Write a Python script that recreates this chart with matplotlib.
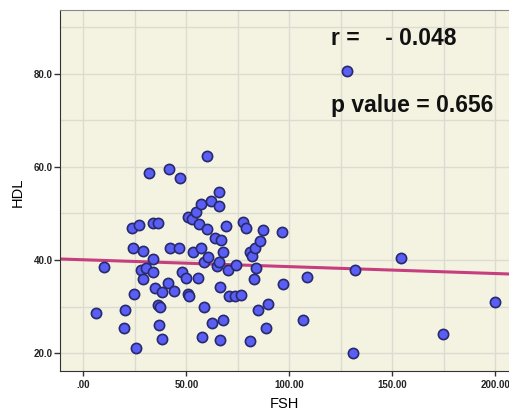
import matplotlib
matplotlib.use("Agg")
import matplotlib.pyplot as plt
from matplotlib.ticker import MultipleLocator
import numpy as np

plt.rcParams['font.family'] = ['Liberation Sans', 'DejaVu Sans']

# FSH vs HDL values
fsh = [6.0, 10.0, 19.8, 20.2, 24.0, 23.8, 27.2, 24.6, 25.5, 28.8,
       28.2, 30.2, 29.1, 32.0, 33.8, 36.2, 33.9, 34.0, 34.8, 38.1,
       36.4, 37.2, 36.9, 38.2, 41.4, 41.2, 43.9, 42.1, 46.6, 46.9,
       48.1, 49.8, 50.6, 51.5, 50.8, 52.9, 54.7, 53.0, 55.8, 56.3,
       57.3, 57.1, 57.5, 58.5, 58.7, 59.9, 60.0, 60.5, 61.8, 62.3,
       63.9, 64.7, 66.0, 66.0, 66.0, 66.7, 67.7, 66.4, 66.4, 68.0,
       69.4, 70.4, 70.9, 73.4, 76.5, 74.0, 77.7, 78.9, 80.7, 80.9,
       81.7, 83.3, 84.0, 82.7, 85.5, 87.1, 84.9, 89.7, 88.6, 96.3,
       97.0, 106.8, 108.6, 127.9, 131.1, 131.9, 154.1, 174.8, 199.9]
hdl = [28.5, 38.6, 25.3, 29.2, 42.5, 46.8, 47.5, 32.6, 21.1, 42.0,
       37.8, 38.2, 36.0, 58.8, 48.0, 48.0, 40.3, 37.5, 34.0, 33.2,
       30.3, 29.8, 26.0, 23.0, 59.6, 35.0, 33.4, 42.5, 42.5, 57.6,
       37.5, 36.1, 32.6, 32.2, 49.3, 48.9, 50.3, 41.7, 36.1, 47.8,
       52.0, 42.5, 23.5, 30.0, 39.6, 46.7, 62.4, 40.6, 52.7, 26.5,
       44.8, 38.8, 39.5, 54.7, 51.6, 44.2, 41.8, 34.2, 22.8, 27.1,
       47.3, 37.8, 32.3, 32.3, 32.4, 38.9, 48.1, 46.9, 22.5, 41.8,
       40.9, 42.5, 38.2, 35.9, 44.1, 46.5, 29.3, 30.6, 25.3, 46.0,
       34.8, 27.1, 36.4, 80.6, 20.1, 37.8, 40.5, 24.0, 31.0]

# fit line as drawn in the chart
fit_intercept = 40.05
fit_slope = -0.0148

x_ticks = [0, 50, 100, 150, 200]
x_tick_labels = ['.00', '50.00', '100.00', '150.00', '200.00']
y_ticks = [20, 40, 60, 80]
y_tick_labels = ['20.0', '40.0', '60.0', '80.0']

fig = plt.figure(figsize=(5.09, 4.12), dpi=100)
ax = fig.add_axes([0.1185, 0.1002, 0.8815, 0.8763])
ax.set_facecolor('#f4f2e1')

xmin, xmax = -11.2, 206.6
ax.set_xlim(xmin, xmax)
ax.set_ylim(16.2, 93.8)

ax.xaxis.set_minor_locator(MultipleLocator(25))
ax.yaxis.set_minor_locator(MultipleLocator(10))
ax.set_xticks(x_ticks)
ax.set_xticklabels(x_tick_labels)
ax.set_yticks(y_ticks)
ax.set_yticklabels(y_tick_labels)
ax.grid(True, which='both', color='#dcdbcf', linewidth=1.0)
ax.set_axisbelow(True)

ax.tick_params(axis='x', which='major', length=3.8, width=1, color='#333333',
               pad=3, labelsize=7)
ax.tick_params(axis='y', which='major', length=4.5, width=1, color='#333333',
               pad=1, labelsize=7)
ax.tick_params(which='minor', length=0)
for lab in ax.get_xticklabels() + ax.get_yticklabels():
    lab.set_fontweight('bold')
    lab.set_color('#222222')

xs = np.array([xmin, xmax])
ax.plot(xs, fit_intercept + fit_slope * xs, color='#c63e7e', linewidth=2.2, zorder=2)

ax.scatter(fsh, hdl, s=54, facecolor='#5b5ef5', edgecolor='#272a6a',
           linewidth=1.2, zorder=3)

ax.text(120.2, 87.7, 'r =    - 0.048', fontsize=16.5, fontweight='bold',
        va='center', ha='left', color='#111111')
ax.text(120.2, 73.3, 'p value = 0.656', fontsize=16.5, fontweight='bold',
        va='center', ha='left', color='#111111')

ax.set_xlabel('FSH', fontsize=10.5)
ax.set_ylabel('HDL', fontsize=10.5)
ax.xaxis.set_label_coords(0.5, -0.092)
ax.xaxis.label.set_va('center')
ax.yaxis.set_label_coords(-0.094, 0.495)
ax.yaxis.label.set_va('center')

ax.spines['top'].set_color('#888888')
ax.spines['right'].set_visible(False)
ax.spines['left'].set_color('#333333')
ax.spines['bottom'].set_color('#333333')

fig.savefig('out.png', dpi=100)
